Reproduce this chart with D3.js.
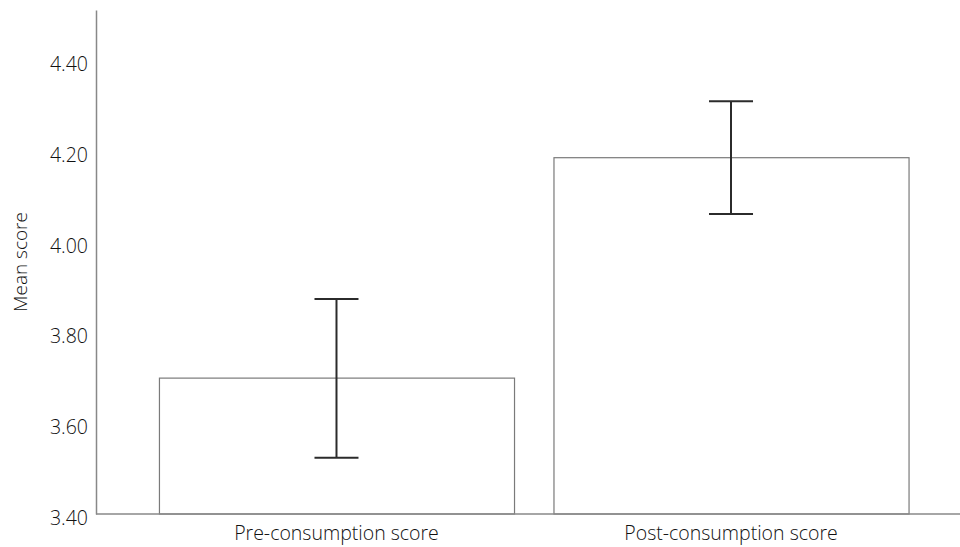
<!DOCTYPE html>
<html><head><meta charset="utf-8">
<script src="https://cdn.jsdelivr.net/npm/d3@7"></script>
<style>body{margin:0;background:#fff}svg{display:block}text{font-family:"Open Sans",sans-serif;font-weight:300;fill:#111}</style>
</head><body>
<svg id="c" width="960" height="547"></svg>
<script>
const categories = ["Pre-consumption score", "Post-consumption score"];
const means = [3.699, 4.184];
const errLow = [3.524, 4.060];
const errHigh = [3.873, 4.308];
const yTicks = [3.40, 3.60, 3.80, 4.00, 4.20, 4.40];
const yLabel = "Mean score";

const svg = d3.select("#c");
const y = d3.scaleLinear().domain([3.4, 4.509]).range([514, 10]);
const x = d3.scaleBand().domain(categories).range([119.5, 948]).paddingInner(0.1).paddingOuter(0.1);

// bars
svg.selectAll("rect.bar").data(categories).join("rect")
  .attr("class","bar")
  .attr("x", d => x(d) + 0.5)
  .attr("width", x.bandwidth())
  .attr("y", (d,i) => y(means[i]))
  .attr("height", (d,i) => y(3.4) - y(means[i]))
  .attr("fill", "#fff").attr("stroke", "#7a7a7a").attr("stroke-width", 1.2);

// error bars
const eb = svg.selectAll("g.err").data(categories).join("g").attr("class","err")
  .attr("stroke", "#2b2b2b").attr("stroke-width", 2);
eb.append("line").attr("x1", d => x(d)+x.bandwidth()/2).attr("x2", d => x(d)+x.bandwidth()/2)
  .attr("y1", (d,i) => y(errLow[i])).attr("y2", (d,i) => y(errHigh[i]));
eb.append("line").attr("x1", d => x(d)+x.bandwidth()/2-22).attr("x2", d => x(d)+x.bandwidth()/2+22)
  .attr("y1", (d,i) => y(errHigh[i])).attr("y2", (d,i) => y(errHigh[i]));
eb.append("line").attr("x1", d => x(d)+x.bandwidth()/2-22).attr("x2", d => x(d)+x.bandwidth()/2+22)
  .attr("y1", (d,i) => y(errLow[i])).attr("y2", (d,i) => y(errLow[i]));

// y axis
const yAxis = d3.axisLeft(y).tickValues(yTicks).tickFormat(d3.format(".2f")).tickSize(0).tickPadding(8);
const gy = svg.append("g").attr("transform","translate(96,0)").call(yAxis);
gy.select(".domain").attr("stroke","#888").attr("stroke-width",1.5);
gy.selectAll("text").attr("font-size", 19.5).attr("font-family","'Open Sans',sans-serif").attr("fill","#111").attr("dy","0.55em");

// x axis
const xAxis = d3.axisBottom(x).tickSize(0).tickPadding(12);
const gx = svg.append("g").attr("transform","translate(0,514)").call(xAxis);
gx.select(".domain").remove();
gx.append("line").attr("x1",96).attr("x2",960).attr("stroke","#888").attr("stroke-width",1.5);
gx.selectAll(".tick text").attr("font-size", 19.5).attr("font-family","'Open Sans',sans-serif").attr("fill","#111");

svg.append("text").attr("transform","translate(27,262) rotate(-90)")
  .attr("text-anchor","middle").attr("font-size",19).text(yLabel);
</script>
</body></html>
